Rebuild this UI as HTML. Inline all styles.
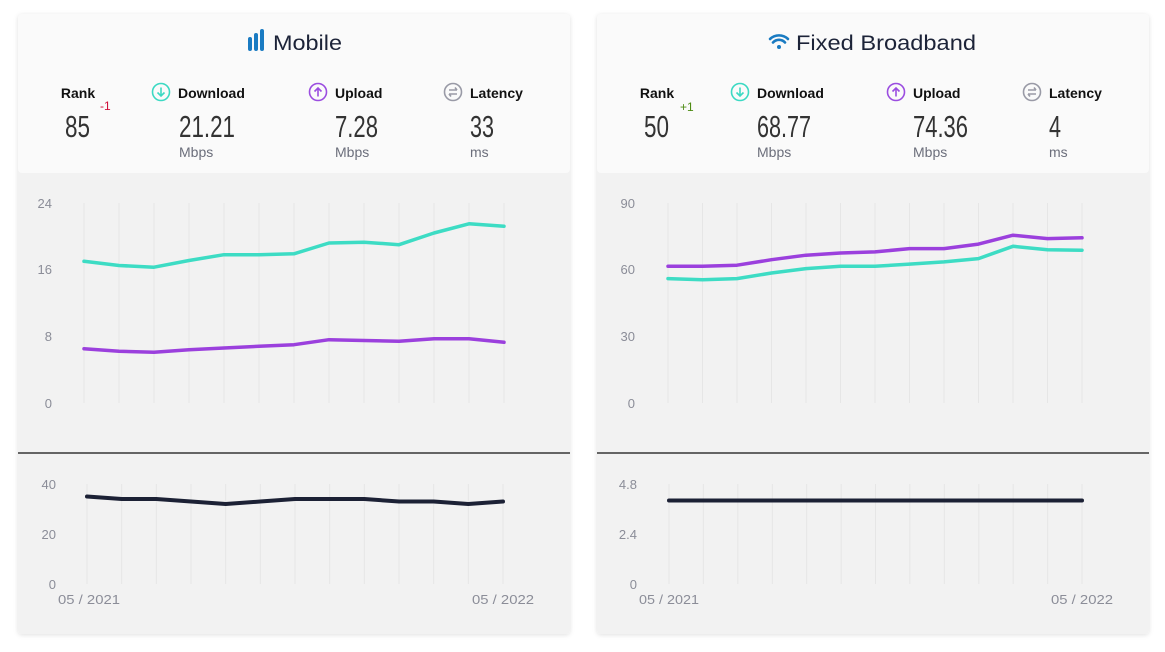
<!DOCTYPE html>
<html><head><meta charset="utf-8"><style>
html,body{margin:0;padding:0;background:#fff;}
svg{display:block;font-family:"Liberation Sans",sans-serif;}
</style></head><body>
<svg width="1165" height="652" viewBox="0 0 1165 652" xmlns="http://www.w3.org/2000/svg">
<defs>
<filter id="sh" x="-5%" y="-5%" width="110%" height="110%"><feDropShadow dx="0" dy="1" stdDeviation="2.5" flood-color="#000" flood-opacity="0.12"/></filter>
</defs>
<!-- LEFT CARD -->
<g>
<rect x="18" y="14" width="552" height="620" rx="4" fill="#f2f2f2" filter="url(#sh)"/>
<rect x="18" y="14" width="552" height="159" rx="4" fill="#fafafa"/>
<rect x="248" y="37" width="4" height="14" rx="2" fill="#1a7bc2"/>
<rect x="254" y="33" width="4" height="18" rx="2" fill="#1a7bc2"/>
<rect x="260" y="29" width="4" height="22" rx="2" fill="#1a7bc2"/>
<text x="273" y="50" font-size="21" fill="#1c2338" textLength="69" lengthAdjust="spacingAndGlyphs">Mobile</text>
<text x="78" y="98" font-size="14" font-weight="bold" fill="#111" text-anchor="middle">Rank</text>
<text x="65" y="137" font-size="31" fill="#333" textLength="25" lengthAdjust="spacingAndGlyphs">85</text>
<text x="100" y="110" font-size="12" fill="#d0103a">-1</text>
<circle cx="161" cy="92" r="8.5" fill="none" stroke="#3cd9c3" stroke-width="1.6"/><path d="M161 87.5v8M157.5 92.5l3.5 3.5 3.5-3.5" fill="none" stroke="#3cd9c3" stroke-width="1.6"/>
<text x="178" y="98" font-size="14" font-weight="bold" fill="#111">Download</text>
<text x="179" y="137" font-size="31" fill="#333" textLength="56" lengthAdjust="spacingAndGlyphs">21.21</text>
<text x="179" y="157" font-size="14" fill="#6b6e7b">Mbps</text>
<circle cx="318" cy="92" r="8.5" fill="none" stroke="#9b4de0" stroke-width="1.6"/><path d="M318 96.5v-8M314.5 91.5l3.5-3.5 3.5 3.5" fill="none" stroke="#9b4de0" stroke-width="1.6"/>
<text x="335" y="98" font-size="14" font-weight="bold" fill="#111">Upload</text>
<text x="335" y="137" font-size="31" fill="#333" textLength="43" lengthAdjust="spacingAndGlyphs">7.28</text>
<text x="335" y="157" font-size="14" fill="#6b6e7b">Mbps</text>
<circle cx="453" cy="92" r="8.5" fill="none" stroke="#999aa6" stroke-width="1.6"/><path d="M449 90h8M455 87.5l2 2.5M457 94h-8M451 96.5l-2-2.5" fill="none" stroke="#999aa6" stroke-width="1.6"/>
<text x="470" y="98" font-size="14" font-weight="bold" fill="#111">Latency</text>
<text x="470" y="137" font-size="31" fill="#333" textLength="24" lengthAdjust="spacingAndGlyphs">33</text>
<text x="470" y="157" font-size="14" fill="#6b6e7b">ms</text>
<g stroke="#e6e6e6" stroke-width="1">
<path d="M84 203V403M119 203V403M154 203V403M189 203V403M224 203V403M259 203V403M294 203V403M329 203V403M364 203V403M399 203V403M434 203V403M469 203V403M504 203V403"/>
<path d="M87 484V584M121.7 484V584M156.3 484V584M191 484V584M225.7 484V584M260.3 484V584M295 484V584M329.7 484V584M364.3 484V584M399 484V584M433.7 484V584M468.3 484V584M503 484V584"/>
</g>
<g font-size="13" fill="#8b8d98" text-anchor="end">
<text x="52" y="208">24</text><text x="52" y="274">16</text><text x="52" y="341">8</text><text x="52" y="408">0</text>
<text x="56" y="489">40</text><text x="56" y="539">20</text><text x="56" y="589">0</text>
</g>
<text x="58" y="604" font-size="13" fill="#8b8d98" textLength="62" lengthAdjust="spacingAndGlyphs">05 / 2021</text>
<text x="472" y="604" font-size="13" fill="#8b8d98" textLength="62" lengthAdjust="spacingAndGlyphs">05 / 2022</text>
<line x1="18" y1="453" x2="570" y2="453" stroke="#111" stroke-width="1.2"/>
<polyline fill="none" stroke="#3ddcc4" stroke-width="3.5" stroke-linejoin="round" stroke-linecap="round" points="84,261.3 119,265.5 154,267.2 189,260.5 224,254.7 259,254.7 294,253.8 329,243 364,242.2 399,244.7 434,233 469,223.8 504,226.3"/>
<polyline fill="none" stroke="#9b40dd" stroke-width="3.5" stroke-linejoin="round" stroke-linecap="round" points="84,348.8 119,351.3 154,352.2 189,349.7 224,348 259,346.3 294,344.7 329,339.7 364,340.5 399,341.3 434,338.8 469,338.8 504,342.3"/>
<polyline fill="none" stroke="#1c2135" stroke-width="4" stroke-linejoin="round" stroke-linecap="round" points="87,496.5 121.7,499 156.3,499 191,501.5 225.7,504 260.3,501.5 295,499 329.7,499 364.3,499 399,501.5 433.7,501.5 468.3,504 503,501.5"/>
</g>
<!-- RIGHT CARD -->
<g>
<rect x="597" y="14" width="552" height="620" rx="4" fill="#f2f2f2" filter="url(#sh)"/>
<rect x="597" y="14" width="552" height="159" rx="4" fill="#fafafa"/>
<path d="M770 39a13 13 0 0 1 18 0M773 42.5a8 8 0 0 1 12 0" fill="none" stroke="#1a7bc2" stroke-width="2.6" stroke-linecap="round"/>
<circle cx="779" cy="47" r="2" fill="#1a7bc2"/>
<text x="796" y="50" font-size="21" fill="#1c2338" textLength="180" lengthAdjust="spacingAndGlyphs">Fixed Broadband</text>
<text x="657" y="98" font-size="14" font-weight="bold" fill="#111" text-anchor="middle">Rank</text>
<text x="644" y="137" font-size="31" fill="#333" textLength="25" lengthAdjust="spacingAndGlyphs">50</text>
<text x="680" y="111" font-size="12" fill="#4c8a12">+1</text>
<circle cx="740" cy="92" r="8.5" fill="none" stroke="#3cd9c3" stroke-width="1.6"/><path d="M740 87.5v8M736.5 92.5l3.5 3.5 3.5-3.5" fill="none" stroke="#3cd9c3" stroke-width="1.6"/>
<text x="757" y="98" font-size="14" font-weight="bold" fill="#111">Download</text>
<text x="757" y="137" font-size="31" fill="#333" textLength="54" lengthAdjust="spacingAndGlyphs">68.77</text>
<text x="757" y="157" font-size="14" fill="#6b6e7b">Mbps</text>
<circle cx="896" cy="92" r="8.5" fill="none" stroke="#9b4de0" stroke-width="1.6"/><path d="M896 96.5v-8M892.5 91.5l3.5-3.5 3.5 3.5" fill="none" stroke="#9b4de0" stroke-width="1.6"/>
<text x="913" y="98" font-size="14" font-weight="bold" fill="#111">Upload</text>
<text x="913" y="137" font-size="31" fill="#333" textLength="55" lengthAdjust="spacingAndGlyphs">74.36</text>
<text x="913" y="157" font-size="14" fill="#6b6e7b">Mbps</text>
<circle cx="1032" cy="92" r="8.5" fill="none" stroke="#999aa6" stroke-width="1.6"/><path d="M1028 90h8M1034 87.5l2 2.5M1036 94h-8M1030 96.5l-2-2.5" fill="none" stroke="#999aa6" stroke-width="1.6"/>
<text x="1049" y="98" font-size="14" font-weight="bold" fill="#111">Latency</text>
<text x="1049" y="137" font-size="31" fill="#333" textLength="12" lengthAdjust="spacingAndGlyphs">4</text>
<text x="1049" y="157" font-size="14" fill="#6b6e7b">ms</text>
<g stroke="#e6e6e6" stroke-width="1">
<path d="M668 203V403M702.5 203V403M737 203V403M771.5 203V403M806 203V403M840.5 203V403M875 203V403M909.5 203V403M944 203V403M978.5 203V403M1013 203V403M1047.5 203V403M1082 203V403"/>
<path d="M669 484V584M703.4 484V584M737.8 484V584M772.3 484V584M806.7 484V584M841.1 484V584M875.5 484V584M909.9 484V584M944.3 484V584M978.8 484V584M1013.2 484V584M1047.6 484V584M1082 484V584"/>
</g>
<g font-size="13" fill="#8b8d98" text-anchor="end">
<text x="635" y="208">90</text><text x="635" y="274">60</text><text x="635" y="341">30</text><text x="635" y="408">0</text>
<text x="637" y="489">4.8</text><text x="637" y="539">2.4</text><text x="637" y="589">0</text>
</g>
<text x="639" y="604" font-size="13" fill="#8b8d98" textLength="60" lengthAdjust="spacingAndGlyphs">05 / 2021</text>
<text x="1051" y="604" font-size="13" fill="#8b8d98" textLength="62" lengthAdjust="spacingAndGlyphs">05 / 2022</text>
<line x1="597" y1="453" x2="1149" y2="453" stroke="#111" stroke-width="1.2"/>
<polyline fill="none" stroke="#3ddcc4" stroke-width="3.5" stroke-linejoin="round" stroke-linecap="round" points="668,278.6 702.5,279.7 737,278.6 771.5,273 806,268.6 840.5,266.3 875,266.3 909.5,264.1 944,261.9 978.5,258.6 1013,246.3 1047.5,249.7 1082,250.2"/>
<polyline fill="none" stroke="#9b40dd" stroke-width="3.5" stroke-linejoin="round" stroke-linecap="round" points="668,266.3 702.5,266.3 737,265.2 771.5,259.7 806,255.2 840.5,253 875,251.9 909.5,248.6 944,248.6 978.5,244.1 1013,235.2 1047.5,238.6 1082,237.8"/>
<line x1="669" y1="500.5" x2="1082" y2="500.5" stroke="#1c2135" stroke-width="4" stroke-linecap="round"/>
</g>
</svg>
</body></html>
